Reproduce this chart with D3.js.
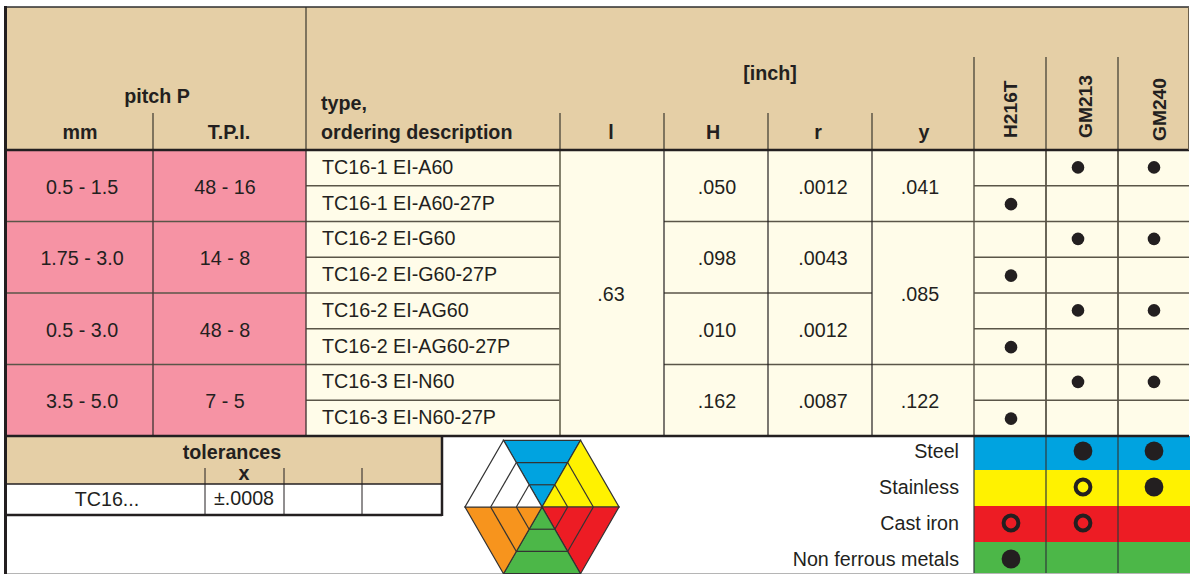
<!DOCTYPE html>
<html>
<head>
<meta charset="utf-8">
<script src="https://cdn.jsdelivr.net/npm/d3@7"></script>
<style>
    html, body { margin: 0; padding: 0; background: #fff; overflow: hidden; }
    text { font-family: "Liberation Sans", sans-serif; fill: #231f20; }
</style>
</head>
<body>
<div class="chart"></div>
<script>
const pitchMm = ["0.5 - 1.5", "1.75 - 3.0", "0.5 - 3.0", "3.5 - 5.0"];
const pitchTpi = ["48 - 16", "14 - 8", "48 - 8", "7 - 5"];
const types = [
    "TC16-1 EI-A60", "TC16-1 EI-A60-27P",
    "TC16-2 EI-G60", "TC16-2 EI-G60-27P",
    "TC16-2 EI-AG60", "TC16-2 EI-AG60-27P",
    "TC16-3 EI-N60", "TC16-3 EI-N60-27P"
];
const valuesH = [".050", ".098", ".010", ".162"];
const valuesR = [".0012", ".0043", ".0012", ".0087"];
const valueL = ".63";
// y is merged over rows: [first row, last row + 1, label]
const valuesY = [[0, 2, ".041"], [2, 6, ".085"], [6, 8, ".122"]];

const grades = ["H216T", "GM213", "GM240"];
const gradeH216T = [0, 1, 0, 1, 0, 1, 0, 1];
const gradeGM213 = [1, 0, 1, 0, 1, 0, 1, 0];
const gradeGM240 = [1, 0, 1, 0, 1, 0, 1, 0];

const metals = ["Steel", "Stainless", "Cast iron", "Non ferrous metals"];
const metalColors = ["#00a3e0", "#fff200", "#ed1c24", "#4cb748"];
const metalH216T = ["", "", "ring", "full"];
const metalGM213 = ["full", "ring", "ring", ""];
const metalGM240 = ["full", "full", "", ""];

const toleranceName = "TC16...";
const toleranceX = "±.0008";

// hexagon sectors clockwise from the top one
const sectorColors = ["#00a3e0", "#fff200", "#ed1c24", "#4cb748", "#f7941d", "#ffffff"];
const hexBands = [1, 2, 3];

const width = 1190;
const height = 574;
const beige = "#e5cfa6";
const pink = "#f693a4";
const cream = "#fffce9";
const dark = "#231f20";
const grey = "#5a5548";

const svg = d3.select(".chart").append("svg")
    .attr("width", width)
    .attr("height", height)
    .style("display", "block");

const rowY = d3.scaleBand().domain(d3.range(types.length)).range([150, 436]);
const gradeX = d3.scaleBand().domain(grades).range([974, 1190]);
const metalY = d3.scaleBand().domain(metals).range([434, 578]);

function rect(x, y, w, h, fill) {
    svg.append("rect").attr("x", x).attr("y", y).attr("width", w).attr("height", h).attr("fill", fill);
}
function line(x1, y1, x2, y2, color, w) {
    svg.append("line").attr("x1", x1).attr("y1", y1).attr("x2", x2).attr("y2", y2)
        .attr("stroke", color).attr("stroke-width", w);
}
function label(str, x, y, anchor, bold, size) {
    return svg.append("text").attr("x", x).attr("y", y)
        .attr("text-anchor", anchor || "middle")
        .attr("font-weight", bold ? "bold" : "normal")
        .attr("font-size", size || 19.7)
        .text(str);
}

// backgrounds
rect(6, 7, 1183, 143, beige);
rect(6, 150, 300, 286, pink);
rect(306, 150, 883, 286, cream);
rect(6, 436, 436, 48, beige);

// colored metal rows
svg.selectAll(".metalRow")
    .data(metals)
    .join("rect")
    .attr("class", "metalRow")
    .attr("x", gradeX.range()[0])
    .attr("width", 216)
    .attr("y", (d, i) => i == 0 ? 436 : metalY(d))
    .attr("height", (d, i) => i == 0 ? metalY.bandwidth() - 2 : metalY.bandwidth())
    .attr("fill", (d, i) => metalColors[i]);

// header stubs
[153, 560, 664, 768, 872].forEach(x => line(x, 113, x, 150, "#3a372e", 1.2));
[974, 1046, 1118].forEach(x => line(x, 57, x, 150, "#3a372e", 1.2));
line(306, 7, 306, 150, "#3a372e", 1.2);

// row lines
d3.range(1, types.length).forEach(i => {
    const y = rowY(i);
    line(306, y, 560, y, grey, 1.6);
    line(974, y, 1189, y, grey, 1.6);
    if (i % 2 == 0) {
        line(6, y, 306, y, grey, 1.6);
        line(664, y, 872, y, grey, 1.6);
    }
});
valuesY.forEach(d => {
    if (d[0] > 0) line(872, rowY(d[0]), 974, rowY(d[0]), grey, 1.6);
});

// body verticals
line(153, 150, 153, 436, "#4a3a3a", 1.4);
line(306, 150, 306, 436, "#4a3a3a", 1.4);
line(560, 150, 560, 436, "#77735f", 1.8);
[664, 768, 872].forEach(x => line(x, 150, x, 436, dark, 1.2));
line(974, 150, 974, 436, grey, 1.4);
[1046, 1118].forEach(x => line(x, 150, x, 436, grey, 1.8));
[974, 1046, 1118].forEach(x => line(x, 436, x, 574, "#2f3a3a", 1.2));

// tolerances grid
[205, 284, 362].forEach(x => {
    line(x, 468, x, 484, dark, 1);
    line(x, 484, x, 515, dark, 1);
});
line(6, 484, 442, 484, dark, 1.6);
line(4, 515, 442, 515, dark, 2.5);
line(442, 436, 442, 516, dark, 2.5);

// heavy frame
line(4, 7, 1189, 7, "#2e2e2e", 1.6);
line(4, 150, 1189, 150, dark, 2.4);
line(4, 436, 1189, 436, dark, 2.6);
line(5.5, 6, 5.5, 574, dark, 3);
line(1188.5, 7, 1188.5, 150, "#6a5f4c", 1);
line(7, 573.5, 1190, 573.5, "#b5b5b5", 1);

// header text
label("pitch P", 157, 103, "middle", true);
label("mm", 80, 139, "middle", true);
label("T.P.I.", 229, 139, "middle", true);
label("type,", 321, 110, "start", true);
label("ordering description", 321, 139, "start", true);
label("[inch]", 770, 80, "middle", true);
label("l", 611, 139, "middle", true);
label("H", 713, 139, "middle", true);
label("r", 818, 139, "middle", true);
label("y", 924, 139, "middle", true);

const gradeTextX = [1017, 1092, 1166];
const gradeTextY = [138, 138, 141];
grades.forEach((g, i) => {
    svg.append("text")
        .attr("transform", `translate(${gradeTextX[i]},${gradeTextY[i]}) rotate(-90)`)
        .attr("font-weight", "bold")
        .attr("font-size", 19.2)
        .text(g);
});

// body text
const groupMid = i => rowY(i * 2 + 1) + 8;
pitchMm.forEach((d, i) => label(d, 82, groupMid(i)));
pitchTpi.forEach((d, i) => label(d, 225, groupMid(i)));
types.forEach((d, i) => label(d, 322, rowY(i) + rowY.bandwidth() / 2 + 6, "start"));
label(valueL, 611, (rowY.range()[0] + rowY.range()[1]) / 2 + 8);
valuesH.forEach((d, i) => label(d, 717, groupMid(i)));
valuesR.forEach((d, i) => label(d, 823, groupMid(i)));
valuesY.forEach(d => label(d[2], 920, (rowY(d[0]) + rowY(d[1] - 1) + rowY.bandwidth()) / 2 + 8));

// small dots
const gradeRows = [gradeH216T, gradeGM213, gradeGM240];
const dotX = [1011, 1078, 1154];
gradeRows.forEach((rows, g) => {
    svg.append("g").selectAll("circle")
        .data(rows)
        .join("circle")
        .attr("cx", dotX[g])
        .attr("cy", (d, i) => rowY(i) + rowY.bandwidth() / 2 - 0.5 + (i % 2 ? 1 : 0))
        .attr("r", d => d ? 6.3 : 0)
        .attr("fill", dark);
});

// metal text and markers
metals.forEach((d, i) => label(d, 959, metalY(d) + metalY.bandwidth() / 2 + 6, "end"));
const metalRows = [metalH216T, metalGM213, metalGM240];
metalRows.forEach((rows, g) => {
    svg.append("g").selectAll("circle")
        .data(rows.map((d, i) => ({ kind: d, metal: metals[i] })).filter(d => d.kind != ""))
        .join("circle")
        .attr("cx", gradeX(grades[g]) + gradeX.bandwidth() / 2 + (g == 2 ? 0 : 1))
        .attr("cy", d => metalY(d.metal) + metalY.bandwidth() / 2 - 1)
        .attr("r", d => d.kind == "full" ? 9.4 : 7.4)
        .attr("fill", d => d.kind == "full" ? dark : "none")
        .attr("stroke", d => d.kind == "full" ? "none" : dark)
        .attr("stroke-width", 4);
});

// tolerances text
label("tolerances", 232, 459, "middle", true);
label("x", 244, 480, "middle", true);
label(toleranceName, 107, 506);
label(toleranceX, 244, 505);

// hexagon
const hexCx = 542;
const hexCy = 507;
const hexR = d3.scaleLinear().domain([0, d3.max(hexBands)]).range([0, 77]);
const corner = (k, band) => {
    const a = (k * 60 - 120) * Math.PI / 180;
    return [hexCx + hexR(band) * Math.cos(a), hexCy + hexR(band) * Math.sin(a)];
};
const hexPath = d3.line();
const hex = svg.append("g").attr("fill", "none").attr("stroke", "#333").attr("stroke-width", 1.2);
sectorColors.forEach((c, k) => {
    hex.append("path")
        .attr("d", hexPath([corner(k, 0), corner(k, 3), corner(k + 1, 3)]) + "Z")
        .attr("fill", c);
    hexBands.slice(0, -1).forEach(b => {
        hex.append("path").attr("d", hexPath([corner(k, b), corner(k + 1, b)]));
    });
});
</script>
</body>
</html>
